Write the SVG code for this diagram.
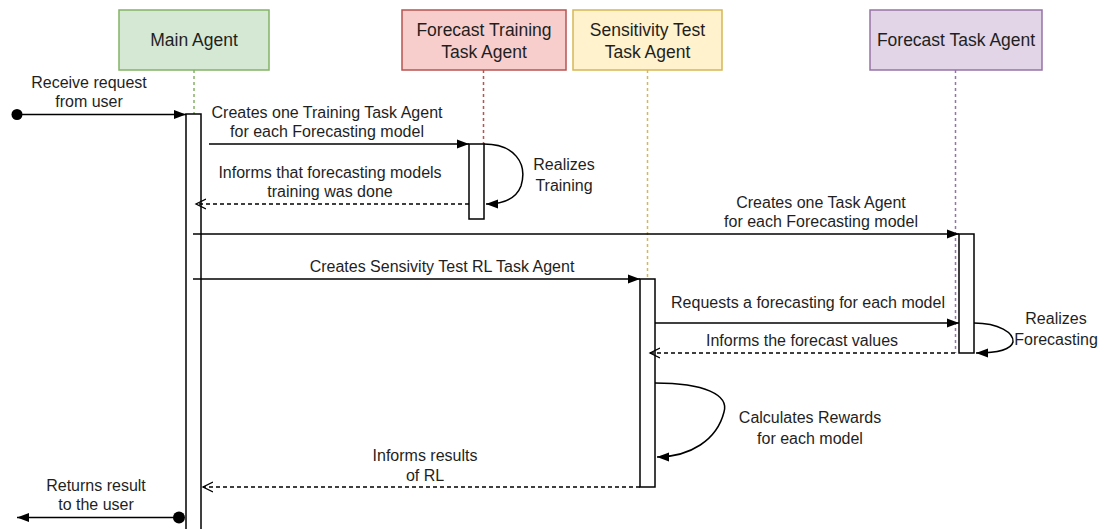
<svg xmlns="http://www.w3.org/2000/svg" width="1107" height="529" viewBox="0 0 1107 529">
  <style>
    .head { stroke-width: 1.5; }
    .head-text { font-family: "Liberation Sans", Arial, sans-serif; font-size: 17.5px; fill: #1f1f1f; text-anchor: middle; }
    .label { font-family: "Liberation Sans", Arial, sans-serif; font-size: 16px; fill: #1f1f1f; text-anchor: middle; }
    .life { fill: none; stroke-width: 1.5; stroke-dasharray: 3 3; }
    .act { fill: #ffffff; stroke: #000000; stroke-width: 1.5; }
    .msg { fill: none; stroke: #000000; stroke-width: 1.5; }
    .ret { fill: none; stroke: #000000; stroke-width: 1.3; stroke-dasharray: 4 3; }
  </style>
  <defs>
    <marker id="block" markerUnits="userSpaceOnUse" markerWidth="13" markerHeight="10" refX="12" refY="5" orient="auto" viewBox="0 0 13 10">
      <path d="M0,0.5 L12,5 L0,9.5 z" fill="#000000"/>
    </marker>
    <marker id="open" markerUnits="userSpaceOnUse" markerWidth="12" markerHeight="12" refX="10" refY="6" orient="auto" viewBox="0 0 12 12">
      <path d="M0,1 L10,6 L0,11" fill="none" stroke="#000000" stroke-width="1.3"/>
    </marker>
  </defs>
  <rect width="1107" height="529" fill="#ffffff"/>

  <!-- Main Agent -->
  <g id="main-agent">
    <rect class="head" x="119" y="10" width="150" height="60" fill="#d5e8d4" stroke="#82b366"/>
    <text class="head-text" x="194" y="46">Main Agent</text>
    <line class="life" x1="194" y1="70" x2="194" y2="114" stroke="#82b366"/>
    <rect class="act" x="186" y="114" width="15" height="430"/>
  </g>

  <!-- Forecast Training Task Agent -->
  <g id="training-agent">
    <rect class="head" x="402" y="10" width="164" height="60" fill="#f8cecc" stroke="#b85450"/>
    <text class="head-text" x="484" y="36">Forecast Training</text>
    <text class="head-text" x="484" y="58">Task Agent</text>
    <line class="life" x1="483.5" y1="70" x2="483.5" y2="144" stroke="#b85450"/>
    <rect class="act" x="469" y="144" width="15" height="75"/>
  </g>

  <!-- Sensitivity Test Task Agent -->
  <g id="sensitivity-agent">
    <rect class="head" x="573" y="10" width="149" height="60" fill="#fff2cc" stroke="#d6b656"/>
    <text class="head-text" x="647.5" y="36">Sensitivity Test</text>
    <text class="head-text" x="647.5" y="58">Task Agent</text>
    <line class="life" x1="647.5" y1="70" x2="647.5" y2="279" stroke="#d6b656"/>
    <rect class="act" x="640" y="279" width="15" height="208"/>
  </g>

  <!-- Forecast Task Agent -->
  <g id="forecast-agent">
    <rect class="head" x="870" y="10" width="172" height="60" fill="#e1d5e7" stroke="#9673a6"/>
    <text class="head-text" x="956" y="46">Forecast Task Agent</text>
    <line class="life" x1="955.5" y1="70" x2="955.5" y2="353" stroke="#9673a6"/>
    <rect class="act" x="959" y="234" width="15" height="119"/>
  </g>

  <!-- Messages -->
  <g id="connectors">
    <!-- request from user -->
    <circle cx="17" cy="114.5" r="5.5" fill="#000000"/>
    <line class="msg" x1="17" y1="114.5" x2="186" y2="114.5" marker-end="url(#block)"/>
    <text class="label" x="89" y="88">Receive request</text>
    <text class="label" x="89" y="107">from user</text>

    <!-- create training agents -->
    <line class="msg" x1="209" y1="144" x2="469" y2="144" marker-end="url(#block)"/>
    <text class="label" x="327" y="118">Creates one Training Task Agent</text>
    <text class="label" x="327" y="137">for each Forecasting model</text>

    <!-- training self call -->
    <path class="msg" d="M484,144 C514,144 528,163 521,186 C516,199 503,204 486,204" marker-end="url(#block)"/>
    <text class="label" x="564" y="170">Realizes</text>
    <text class="label" x="564" y="191">Training</text>

    <!-- training done -->
    <line class="ret" x1="469" y1="204" x2="196" y2="204" marker-end="url(#open)"/>
    <text class="label" x="330" y="178">Informs that forecasting models</text>
    <text class="label" x="330" y="197">training was done</text>

    <!-- create forecast agents -->
    <line class="msg" x1="193" y1="234" x2="959" y2="234" marker-end="url(#block)"/>
    <text class="label" x="821" y="208">Creates one Task Agent</text>
    <text class="label" x="821" y="227">for each Forecasting model</text>

    <!-- create sensitivity agent -->
    <line class="msg" x1="193" y1="279" x2="640" y2="279" marker-end="url(#block)"/>
    <text class="label" x="442" y="272">Creates Sensivity Test RL Task Agent</text>

    <!-- request forecasts -->
    <line class="msg" x1="655" y1="323" x2="959" y2="323" marker-end="url(#block)"/>
    <text class="label" x="808" y="308">Requests a forecasting for each model</text>

    <!-- forecasting self call -->
    <path class="msg" d="M974,323 C999,323 1014,333 1013,342 C1011,350 997,353 976,353" marker-end="url(#block)"/>
    <text class="label" x="1056" y="324">Realizes</text>
    <text class="label" x="1056" y="345">Forecasting</text>

    <!-- forecast values -->
    <line class="ret" x1="955" y1="353" x2="650" y2="353" marker-end="url(#open)"/>
    <text class="label" x="802" y="346">Informs the forecast values</text>

    <!-- rewards self call -->
    <path class="msg" d="M655,383 C705,383 729,395 724,412 C717,440 690,457 657,457" marker-end="url(#block)"/>
    <text class="label" x="810" y="423">Calculates Rewards</text>
    <text class="label" x="810" y="444">for each model</text>

    <!-- RL results -->
    <line class="ret" x1="640" y1="487" x2="203" y2="487" marker-end="url(#open)"/>
    <text class="label" x="425" y="461">Informs results</text>
    <text class="label" x="425" y="481">of RL</text>

    <!-- result to user -->
    <circle cx="179" cy="517.5" r="6" fill="#000000"/>
    <line class="msg" x1="179" y1="517.5" x2="17" y2="517.5" marker-end="url(#block)"/>
    <text class="label" x="96" y="491">Returns result</text>
    <text class="label" x="96" y="510">to the user</text>
  </g>
</svg>
